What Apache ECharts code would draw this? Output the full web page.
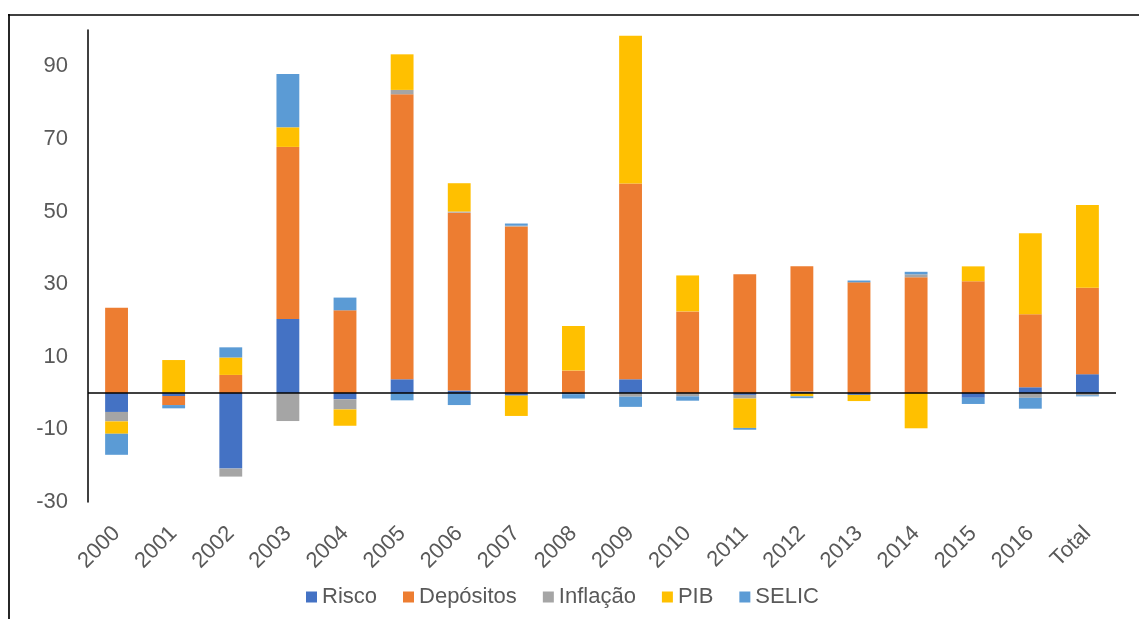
<!DOCTYPE html>
<html>
<head>
<meta charset="utf-8">
<script src="https://cdn.jsdelivr.net/npm/echarts@6/dist/echarts.min.js"></script>
<style>
html,body{margin:0;padding:0;background:#fff;}
#chart{width:1139px;height:619px;}
</style>
</head>
<body>
<div id="chart"></div>
<script>
var categories = ['2000','2001','2002','2003','2004','2005','2006','2007','2008','2009','2010','2011','2012','2013','2014','2015','2016','Total'];
var risco     = [-5.2, -0.8, -20.8, 20.4, -1.7, 3.8, 0.7, -0.7, -0.3, 3.8, 0, -0.5, 0.4, -0.5, 0, -1.3, 1.6, 5.2];
var depositos = [23.5, -2.5, 5.0, 47.4, 22.8, 78.5, 49.0, 45.9, 6.2, 53.9, 22.5, 32.7, 34.5, 30.5, 31.9, 30.8, 20.1, 23.8];
var inflacao  = [-2.6, 0, -2.2, -7.7, -2.8, 1.2, 0.3, 0.2, 0, -1.0, -0.9, -1.0, 0, 0, 0.8, 0, -1.3, -0.6];
var pib       = [-3.4, 9.1, 4.8, 5.4, -4.5, 9.8, 7.8, -5.6, 12.3, 40.7, 9.9, -8.1, -0.9, -1.7, -9.7, 4.1, 22.3, 22.8];
var selic     = [-5.8, -0.9, 2.8, 14.7, 3.5, -2.0, -3.3, 0.6, -1.2, -2.8, -1.2, -0.5, -0.5, 0.5, 0.7, -1.7, -3.0, -0.3];
var yTicks = {min: -30, max: 100, interval: 20};

var textColor = '#595959';
var font = '"Liberation Sans", Arial, sans-serif';

function mk(name, data, color, extra) {
  var s = {
    name: name, type: 'bar', stack: 'total', data: data,
    barWidth: '40%',
    itemStyle: {color: color},
    emphasis: {disabled: true}
  };
  if (extra) for (var k in extra) s[k] = extra[k];
  return s;
}

var chart = echarts.init(document.getElementById('chart'));
chart.setOption({
  animation: false,
  textStyle: {fontFamily: font},
  grid: {left: 88, right: 23, top: 30, bottom: 117},
  legend: {
    left: 301, top: 581,
    itemWidth: 11, itemHeight: 11, itemGap: 26,
    icon: 'rect',
    textStyle: {color: textColor, fontSize: 22, fontFamily: font},
    data: ['Risco','Depósitos','Inflação','PIB','SELIC']
  },
  xAxis: {
    type: 'category',
    data: categories,
    axisLine: {show: false, onZero: false},
    axisTick: {show: false},
    axisLabel: {rotate: 45, color: textColor, fontSize: 22, margin: 28, interval: 0}
  },
  yAxis: {
    type: 'value',
    min: yTicks.min, max: yTicks.max, interval: yTicks.interval,
    axisLine: {show: true, lineStyle: {color: '#000', width: 1.5}},
    axisTick: {show: false},
    splitLine: {show: false},
    axisLabel: {color: textColor, fontSize: 22, margin: 20, showMaxLabel: false}
  },
  series: [
    mk('Risco', risco, '#4472C4', {
      markLine: {
        silent: true, symbol: 'none', label: {show: false},
        lineStyle: {color: '#000', width: 1.5, type: 'solid'},
        data: [{yAxis: 0}]
      }
    }),
    mk('Depósitos', depositos, '#ED7D31'),
    mk('Inflação', inflacao, '#A5A5A5'),
    mk('PIB', pib, '#FFC000'),
    mk('SELIC', selic, '#5B9BD5')
  ],
  graphic: [
    {type: 'line', shape: {x1: 8, y1: 15, x2: 1139, y2: 15}, style: {stroke: '#000', lineWidth: 1.7}, silent: true},
    {type: 'line', shape: {x1: 9, y1: 14, x2: 9, y2: 619}, style: {stroke: '#000', lineWidth: 1.7}, silent: true}
  ]
});
</script>
</body>
</html>
